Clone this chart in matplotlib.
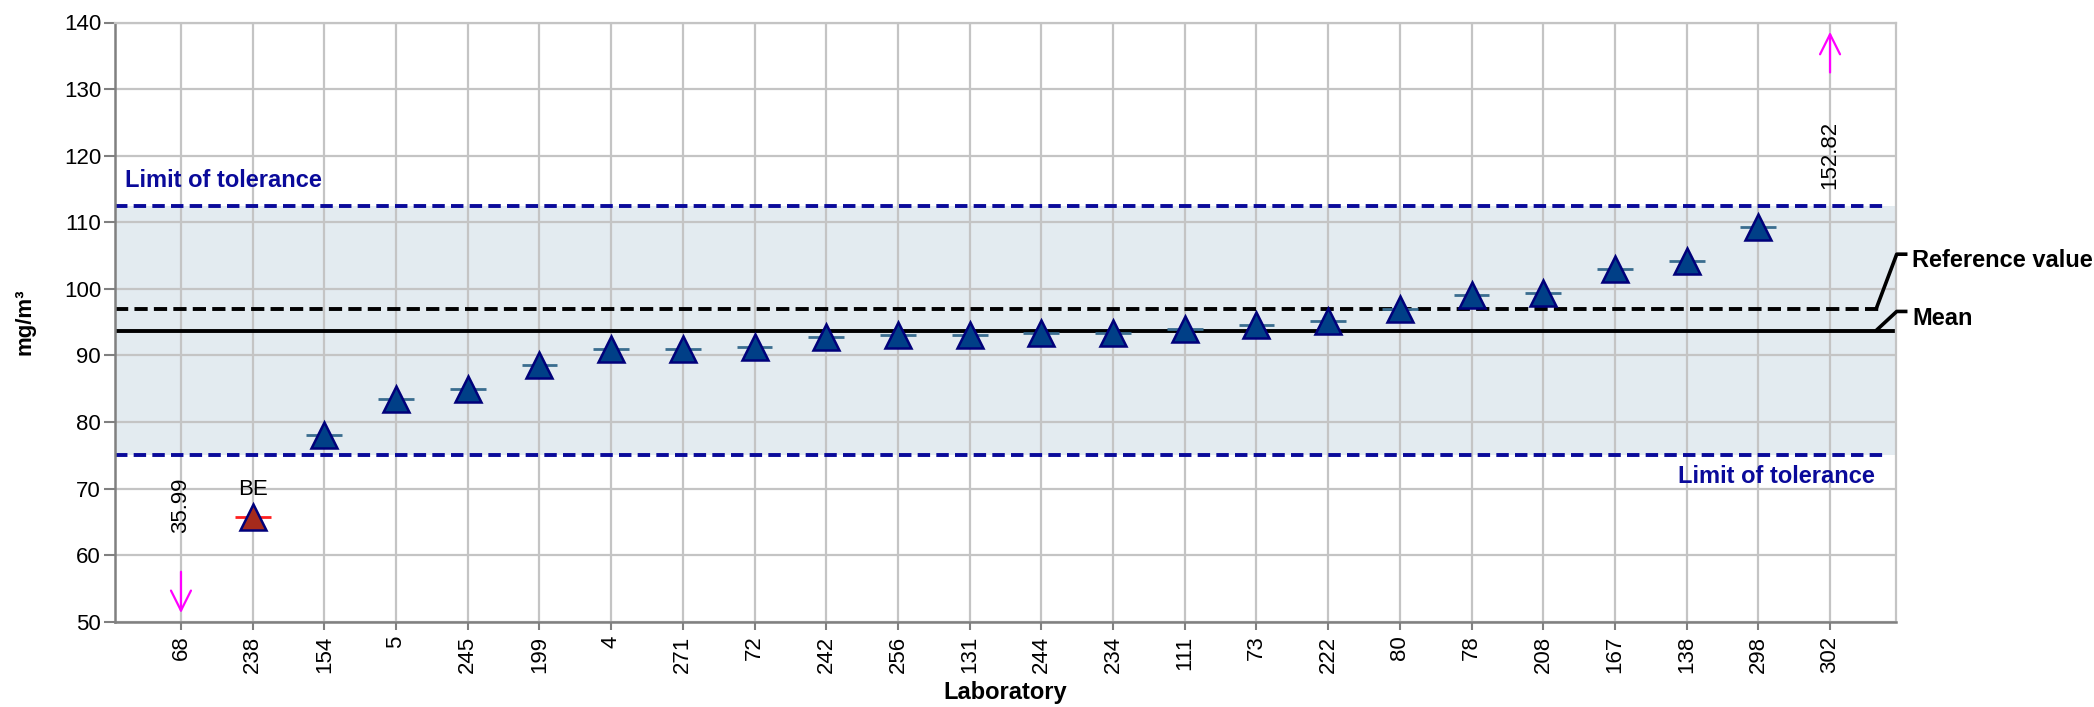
import matplotlib
matplotlib.use("Agg")
import matplotlib.pyplot as plt

plt.rcParams["font.family"] = ["Liberation Sans", "DejaVu Sans"]

# Laboratory codes, sorted by reported result
laboratories = ["68", "238", "154", "5", "245", "199", "4", "271", "72", "242",
                "256", "131", "244", "234", "111", "73", "222", "80", "78",
                "208", "167", "138", "298", "302"]
# Reported results (mg/m³)
results = [35.99, 65.78, 78.04, 83.45, 84.95, 88.51, 90.91, 90.96, 91.26, 92.76,
           93.10, 93.10, 93.36, 93.36, 93.97, 94.57, 95.17, 96.97, 99.03,
           99.37, 102.93, 104.13, 109.24, 152.82]
# Evaluation flags ("BE" = outside tolerance)
flags = ["", "BE", "", "", "", "", "", "", "", "", "", "", "", "", "", "", "",
         "", "", "", "", "", "", ""]

reference_value = 96.9
mean_value = 93.7
tolerance_low = 75.1
tolerance_high = 112.5
y_ticks = [50, 60, 70, 80, 90, 100, 110, 120, 130, 140]

W, H = 2094, 707
fig = plt.figure(figsize=(W / 100, H / 100), dpi=100)
ax = fig.add_axes([115 / W, 1 - 621.7 / H, (1896 - 115) / W, (621.7 - 22.5) / H])

xmin, xmax = -0.92, 23.92
ymin, ymax = y_ticks[0], y_ticks[-1]
ax.set_xlim(xmin, xmax)
ax.set_ylim(ymin, ymax)

x = list(range(len(laboratories)))

# tolerance band
ax.axhspan(tolerance_low, tolerance_high, color="#e3ebf0", zorder=0.1, lw=0)

# grid
ax.set_axisbelow(True)
ax.grid(True, color="#c4c4c4", lw=1.6)

line_end = 23.76
navy = "#0a0a9a"
ax.plot([xmin, line_end], [tolerance_high] * 2, color=navy, lw=2.8,
        dashes=(3.2, 1.6), zorder=2, dash_capstyle="butt")
ax.plot([xmin, line_end], [tolerance_low] * 2, color=navy, lw=2.8,
        dashes=(3.2, 1.6), zorder=2, dash_capstyle="butt")
ax.plot([xmin, 23.75], [reference_value] * 2, color="black", lw=2.8,
        dashes=(3.4, 1.6), zorder=2, dash_capstyle="butt")
ax.plot([xmin, 23.88], [mean_value] * 2, color="black", lw=2.8, zorder=2)

fs = 16
arrow_style = dict(arrowstyle="->,head_length=0.6,head_width=0.3",
                   color="#ff00ff", lw=1.6, mutation_scale=24,
                   shrinkA=0, shrinkB=0)

# measurements
for xi, v, f in zip(x, results, flags):
    if v < ymin:
        ax.annotate("", xy=(xi, 51.3), xytext=(xi, 57.5),
                    arrowprops=arrow_style, zorder=5)
        ax.text(xi, 67.5, f"{v:.2f}", rotation=90, ha="center", va="center",
                fontsize=fs, zorder=5)
        continue
    if v > ymax:
        ax.annotate("", xy=(xi, 138.6), xytext=(xi, 132.5),
                    arrowprops=arrow_style, zorder=5)
        ax.text(xi, 120.1, f"{v:.2f}", rotation=90, ha="center", va="center",
                fontsize=fs, zorder=5)
        continue
    bad = f != ""
    ax.plot([xi - 0.25, xi + 0.25], [v, v], color="#ff2020" if bad else "#3a6d8f",
            lw=2, zorder=3, solid_capstyle="butt")
    ax.plot(xi, v, marker="^", ms=18.5, mfc="#a52a1c" if bad else "#003f87",
            mec="#00007a", mew=1.8, ls="none", zorder=4)
    if bad:
        ax.text(xi, 69.8, f, ha="center", va="center", fontsize=fs, zorder=5)

# labels for the tolerance lines
ax.text(-0.78, 116.3, "Limit of tolerance", color=navy, fontsize=17,
        fontweight="bold", ha="left", va="center")
ax.text(23.62, 71.8, "Limit of tolerance", color=navy, fontsize=17,
        fontweight="bold", ha="right", va="center")

# connectors to right-hand captions
ref_y_cap = 105.2
mean_y_cap = 96.6
ax.plot([23.64, 23.93, 24.08], [reference_value, ref_y_cap, ref_y_cap],
        color="black", lw=2.6, clip_on=False, zorder=5, solid_capstyle="butt")
ax.plot([23.64, 23.93, 24.08], [mean_value, mean_y_cap, mean_y_cap],
        color="black", lw=2.6, clip_on=False, zorder=5, solid_capstyle="butt")
ax.text(24.15, ref_y_cap - 0.9, "Reference value", fontsize=17, fontweight="bold",
        ha="left", va="center", clip_on=False)
ax.text(24.15, mean_y_cap - 1.0, "Mean", fontsize=17, fontweight="bold",
        ha="left", va="center", clip_on=False)

# axes styling
ax.set_xticks(x)
ax.set_xticklabels(laboratories, rotation=90, fontsize=fs)
ax.set_yticks(y_ticks)
ax.set_yticklabels([str(t) for t in y_ticks], fontsize=fs)
ax.tick_params(axis="y", length=8, width=1.5, color="#808080", pad=2)
ax.tick_params(axis="x", length=6, width=1.5, color="#808080", pad=4)
for side in ("left", "bottom"):
    ax.spines[side].set_color("#808080")
    ax.spines[side].set_linewidth(1.8)
for side in ("top", "right"):
    ax.spines[side].set_color("#c4c4c4")
    ax.spines[side].set_linewidth(1.6)

fig.text(25 / W, 1 - 322 / H, "mg/m³", rotation=90, fontsize=16, fontweight="bold",
         ha="center", va="center")
fig.text(1005 / W, 1 - 693 / H, "Laboratory", fontsize=17, fontweight="bold",
         ha="center", va="center")

fig.savefig("out.png", dpi=100)
